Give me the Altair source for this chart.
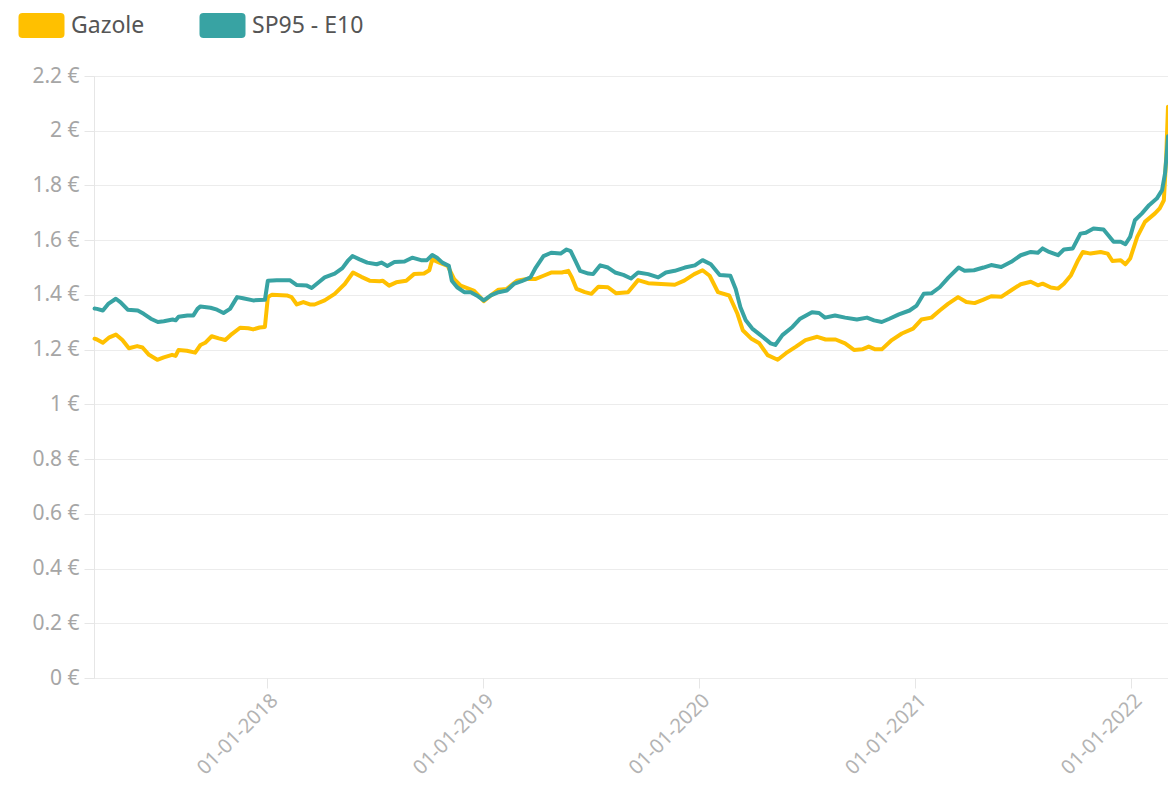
import altair as alt
import pandas as pd

# ---- data ----
sp95_dates = [
    "2017-03-15", "2017-03-19", "2017-03-29", "2017-04-07", "2017-04-20", "2017-04-28", "2017-05-10",
    "2017-05-27", "2017-06-06", "2017-06-18", "2017-06-30", "2017-07-10", "2017-07-25", "2017-07-30",
    "2017-08-04", "2017-08-19", "2017-08-29", "2017-09-05", "2017-09-10", "2017-09-27", "2017-10-08",
    "2017-10-19", "2017-10-30", "2017-11-11", "2017-11-21", "2017-12-08", "2017-12-28",
    "2018-01-02", "2018-01-17", "2018-02-08", "2018-02-20", "2018-03-09", "2018-03-17", "2018-03-31",
    "2018-04-08", "2018-04-25", "2018-05-08", "2018-05-17", "2018-05-25", "2018-06-06", "2018-06-19",
    "2018-07-05", "2018-07-13", "2018-07-23", "2018-08-04", "2018-08-21", "2018-09-03", "2018-09-18",
    "2018-09-28", "2018-10-07", "2018-10-15", "2018-10-24", "2018-11-04", "2018-11-09", "2018-11-18",
    "2018-11-30", "2018-12-11", "2018-12-21",
    "2019-01-02", "2019-01-14", "2019-01-27", "2019-02-10", "2019-02-22", "2019-03-07", "2019-03-22",
    "2019-03-31", "2019-04-13", "2019-04-26", "2019-05-12", "2019-05-22", "2019-05-29", "2019-06-06",
    "2019-06-14", "2019-06-28", "2019-07-06", "2019-07-18", "2019-07-31", "2019-08-12", "2019-08-26",
    "2019-09-08", "2019-09-20", "2019-10-07", "2019-10-24", "2019-11-06", "2019-11-21", "2019-12-08",
    "2019-12-25",
    "2020-01-07", "2020-01-21", "2020-02-05", "2020-02-23", "2020-03-03", "2020-03-11", "2020-03-20",
    "2020-03-31", "2020-04-14", "2020-04-26", "2020-05-01", "2020-05-09", "2020-05-21", "2020-06-07",
    "2020-06-20", "2020-07-10", "2020-07-22", "2020-08-01", "2020-08-18", "2020-09-04", "2020-09-24",
    "2020-10-11", "2020-10-23", "2020-11-05", "2020-11-18", "2020-12-04", "2020-12-22",
    "2021-01-03", "2021-01-15", "2021-01-28", "2021-02-11", "2021-02-26", "2021-03-15", "2021-03-25",
    "2021-04-10", "2021-04-26", "2021-05-09", "2021-05-26", "2021-06-12", "2021-06-28", "2021-07-15",
    "2021-07-27", "2021-08-04", "2021-08-15", "2021-08-30", "2021-09-09", "2021-09-24", "2021-10-07",
    "2021-10-16", "2021-10-29", "2021-11-15", "2021-11-23", "2021-12-02", "2021-12-14", "2021-12-22",
    "2021-12-30",
    "2022-01-07", "2022-01-19", "2022-01-31", "2022-02-13", "2022-02-22", "2022-02-27", "2022-03-02",
    "2022-03-04",
]
sp95_values = [
    1.350, 1.349, 1.343, 1.367, 1.386, 1.373, 1.346,
    1.343, 1.331, 1.313, 1.301, 1.304, 1.310, 1.307,
    1.320, 1.325, 1.325, 1.349, 1.358, 1.353, 1.346,
    1.334, 1.349, 1.392, 1.388, 1.380, 1.382,
    1.452, 1.454, 1.454, 1.436, 1.434, 1.425, 1.450,
    1.464, 1.478, 1.498, 1.524, 1.542, 1.530, 1.518,
    1.512, 1.518, 1.506, 1.520, 1.522, 1.536, 1.527,
    1.527, 1.546, 1.536, 1.518, 1.506, 1.452, 1.428,
    1.410, 1.410, 1.398,
    1.380, 1.398, 1.410, 1.416, 1.440, 1.450, 1.464,
    1.500, 1.542, 1.554, 1.551, 1.566, 1.560, 1.524,
    1.488, 1.478, 1.476, 1.508, 1.500, 1.482, 1.473,
    1.460, 1.482, 1.476, 1.464, 1.482, 1.488, 1.500,
    1.508,
    1.527, 1.512, 1.473, 1.470, 1.422, 1.355, 1.307,
    1.277, 1.253, 1.232, 1.223, 1.217, 1.253, 1.283,
    1.313, 1.337, 1.334, 1.317, 1.325, 1.317, 1.310,
    1.317, 1.307, 1.301, 1.313, 1.329, 1.343,
    1.361, 1.404, 1.406, 1.428, 1.464, 1.500, 1.488,
    1.490, 1.500, 1.509, 1.502, 1.521, 1.545, 1.557,
    1.554, 1.570, 1.557, 1.545, 1.566, 1.570, 1.624,
    1.627, 1.643, 1.639, 1.618, 1.594, 1.594, 1.585,
    1.612,
    1.673, 1.698, 1.728, 1.752, 1.783, 1.844, 1.920,
    1.980,
]

gazole_dates = [
    "2017-03-15", "2017-03-19", "2017-03-29", "2017-04-09", "2017-04-20", "2017-05-01", "2017-05-12",
    "2017-05-26", "2017-06-04", "2017-06-15", "2017-06-29", "2017-07-10", "2017-07-24", "2017-07-30",
    "2017-08-04", "2017-08-18", "2017-09-01", "2017-09-10", "2017-09-18", "2017-09-29", "2017-10-11",
    "2017-10-22", "2017-11-02", "2017-11-16", "2017-11-30", "2017-12-08", "2017-12-19", "2017-12-28",
    "2018-01-02", "2018-01-09", "2018-02-03", "2018-02-11", "2018-02-20", "2018-03-03", "2018-03-14",
    "2018-03-22", "2018-04-08", "2018-04-25", "2018-05-12", "2018-05-26", "2018-06-09", "2018-06-23",
    "2018-07-10", "2018-07-15", "2018-07-26", "2018-08-07", "2018-08-24", "2018-09-06", "2018-09-23",
    "2018-10-02", "2018-10-07", "2018-10-19", "2018-11-02", "2018-11-13", "2018-11-24", "2018-12-05",
    "2018-12-16", "2018-12-27",
    "2019-01-02", "2019-01-14", "2019-01-27", "2019-02-10", "2019-02-27", "2019-03-16", "2019-03-30",
    "2019-04-13", "2019-04-27", "2019-05-14", "2019-05-25", "2019-05-31", "2019-06-08", "2019-06-22",
    "2019-07-03", "2019-07-15", "2019-07-31", "2019-08-14", "2019-09-03", "2019-09-20", "2019-10-07",
    "2019-10-29", "2019-11-21", "2019-12-07", "2019-12-24",
    "2020-01-07", "2020-01-19", "2020-02-02", "2020-02-21", "2020-03-06", "2020-03-15", "2020-03-29",
    "2020-04-12", "2020-04-26", "2020-05-13", "2020-05-27", "2020-06-13", "2020-06-29", "2020-07-19",
    "2020-08-02", "2020-08-19", "2020-09-04", "2020-09-19", "2020-10-03", "2020-10-14", "2020-10-25",
    "2020-11-05", "2020-11-22", "2020-12-09", "2020-12-28",
    "2021-01-11", "2021-01-28", "2021-02-11", "2021-02-25", "2021-03-14", "2021-03-28", "2021-04-11",
    "2021-04-25", "2021-05-09", "2021-05-26", "2021-06-12", "2021-06-28", "2021-07-15", "2021-07-27",
    "2021-08-04", "2021-08-18", "2021-08-30", "2021-09-09", "2021-09-21", "2021-10-03", "2021-10-11",
    "2021-10-24", "2021-11-10", "2021-11-22", "2021-11-30", "2021-12-14", "2021-12-22", "2021-12-30",
    "2022-01-11", "2022-01-24", "2022-02-10", "2022-02-18", "2022-02-25", "2022-03-01", "2022-03-04",
]
gazole_values = [
    1.240, 1.237, 1.225, 1.245, 1.255, 1.235, 1.205,
    1.213, 1.208, 1.181, 1.163, 1.172, 1.181, 1.177,
    1.199, 1.196, 1.189, 1.217, 1.225, 1.249, 1.241,
    1.235, 1.257, 1.280, 1.278, 1.274, 1.281, 1.283,
    1.392, 1.401, 1.398, 1.392, 1.365, 1.374, 1.365,
    1.365, 1.380, 1.404, 1.440, 1.482, 1.466, 1.452,
    1.450, 1.452, 1.434, 1.446, 1.452, 1.476, 1.478,
    1.490, 1.530, 1.518, 1.506, 1.458, 1.434, 1.425,
    1.416, 1.392,
    1.377, 1.398, 1.419, 1.422, 1.452, 1.458, 1.458,
    1.470, 1.482, 1.482, 1.488, 1.464, 1.422, 1.410,
    1.404, 1.430, 1.428, 1.406, 1.410, 1.454, 1.443,
    1.440, 1.437, 1.452, 1.476,
    1.490, 1.470, 1.410, 1.398, 1.331, 1.271, 1.241,
    1.223, 1.180, 1.163, 1.187, 1.211, 1.235, 1.247,
    1.237, 1.237, 1.223, 1.199, 1.201, 1.211, 1.201,
    1.201, 1.235, 1.259, 1.277,
    1.310, 1.317, 1.343, 1.367, 1.392, 1.374, 1.370,
    1.382, 1.395, 1.393, 1.417, 1.439, 1.448, 1.435,
    1.441, 1.427, 1.423, 1.441, 1.472, 1.527, 1.557,
    1.551, 1.557, 1.551, 1.524, 1.527, 1.512, 1.533,
    1.612, 1.667, 1.698, 1.716, 1.746, 1.905, 2.088,
]

series_names = ["Gazole", "SP95 - E10"]
series_colors = ["#FFC000", "#38A3A3"]
y_ticks = [0, 0.2, 0.4, 0.6, 0.8, 1.0, 1.2, 1.4, 1.6, 1.8, 2.0, 2.2]
x_tick_years = [2018, 2019, 2020, 2021, 2022]

# ---- table ----
df = pd.concat([
    pd.DataFrame({"date": gazole_dates, "value": gazole_values, "series": series_names[0]}),
    pd.DataFrame({"date": sp95_dates, "value": sp95_values, "series": series_names[1]}),
], ignore_index=True)

FONT = "Noto Sans"
line_scale = alt.Scale(domain=series_names, range=series_colors)
legend_scale = alt.Scale(domain=series_names, range=series_colors)

x_enc = alt.X(
    "date:T",
    scale=alt.Scale(domain=[alt.DateTime(year=2017, month=3, date=14),
                            alt.DateTime(year=2022, month=3, date=4)]),
    axis=alt.Axis(
        title=None,
        values=[alt.DateTime(year=y, month=1, date=1) for y in x_tick_years],
        format="%d-%m-%Y",
        labelAngle=-45,
        labelAlign="right",
        labelBaseline="top",
        labelFont=FONT,
        labelFontSize=20,
        labelColor="#b3b3b3",
        labelPadding=2,
        tickColor="#e6e6e6",
        tickSize=10,
        domain=False,
        grid=False,
    ),
)
y_enc = alt.Y(
    "value:Q",
    scale=alt.Scale(domain=[0, 2.2], nice=False),
    axis=alt.Axis(
        title=None,
        values=y_ticks,
        labelExpr="format(datum.value, '.2~f') + ' €'",
        labelFont=FONT,
        labelFontSize=21,
        labelColor="#a6a6a6",
        labelPadding=5,
        tickColor="#e6e6e6",
        tickSize=10,
        domainColor="#e6e6e6",
        gridColor="#ececec",
    ),
)

lines = alt.Chart(df).mark_line(strokeWidth=4, strokeJoin="round", strokeCap="round").encode(
    x=x_enc,
    y=y_enc,
    stroke=alt.Stroke("series:N", scale=line_scale, legend=None),
)

# rounded-rectangle swatch (46 x 25 px at symbolSize 625)
swatch = ("M-1.52,-1 L1.52,-1 Q1.84,-1 1.84,-0.68 L1.84,0.68 Q1.84,1 1.52,1 "
          "L-1.52,1 Q-1.84,1 -1.84,0.68 L-1.84,-0.68 Q-1.84,-1 -1.52,-1 Z")

legend_layer = alt.Chart(df).mark_square(size=0, opacity=0, filled=True).encode(
    x="date:T",
    y="value:Q",
    color=alt.Color(
        "series:N",
        scale=legend_scale,
        legend=alt.Legend(
            title=None,
            orient="none",
            legendX=-65,
            legendY=-63,
            direction="horizontal",
            symbolType=swatch,
            symbolSize=625,
            symbolStrokeWidth=0,
            symbolOpacity=1,
            labelFont=FONT,
            labelFontSize=23,
            labelColor="#555555",
            labelOffset=17,
            columnPadding=54,
        ),
    ),
)

chart = alt.layer(lines, legend_layer).resolve_scale(color="independent").properties(
    width=1074,
    height=602,
    autosize=alt.AutoSizeParams(type="none"),
    padding={"left": 86, "top": 68, "right": 0, "bottom": 104},
).configure_view(stroke=None).configure(background="white")

chart.save("out.html", embed_options={"renderer": "svg", "actions": False})
